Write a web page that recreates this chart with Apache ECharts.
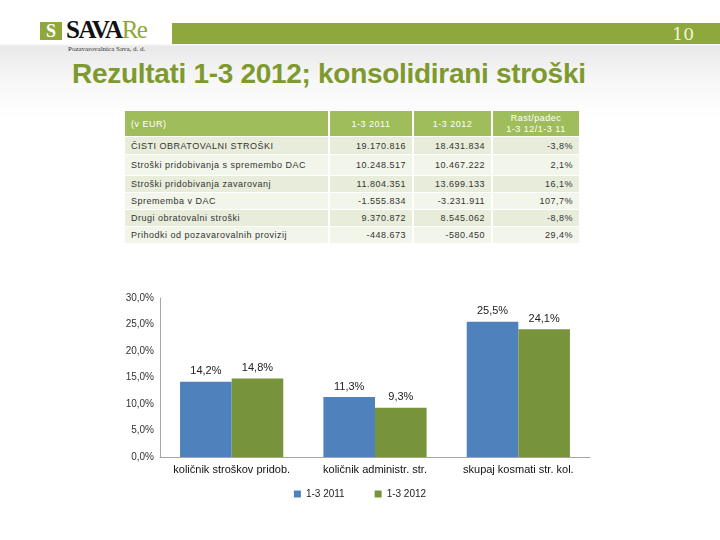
<!DOCTYPE html>
<html>
<head>
<meta charset="utf-8">
<script src="https://cdn.jsdelivr.net/npm/echarts@6/dist/echarts.min.js"></script>
<style>
  html, body { margin: 0; padding: 0; }
  body {
    width: 720px; height: 540px; position: relative; overflow: hidden;
    font-family: "Liberation Sans", Arial, sans-serif;
    background: linear-gradient(to bottom, #fff 0px, #fff 44px, #e9e9e9 46px, #f7f7f7 80px, #fff 120px);
  }
  #bar { position: absolute; left: 172px; top: 23px; width: 548px; height: 21px; background: #8fa83b; }
  #page { position: absolute; right: 26px; top: 24px; color: #f4f4dc; font: 17px "DejaVu Serif", serif; }
  #logoS { position: absolute; left: 40px; top: 22px; width: 22px; height: 18px; background: #8fa83b;
           color: #fff; font: bold 18px "Liberation Serif", serif; text-align: center; line-height: 18px; }
  #logo { position: absolute; left: 66px; top: 16px; font: bold 25px "Liberation Serif", serif; letter-spacing: -1.5px; color: #111; }
  #logo span { color: #8fa83b; font-weight: normal; }
  #logoSub { position: absolute; left: 68px; top: 45px; font: 7px "Liberation Serif", serif; color: #333; }
  #title { position: absolute; left: 72px; top: 58px; font: bold 28px "Liberation Sans", Arial, sans-serif; color: #7e9a2e; letter-spacing: -0.3px; }
  #tbl { position: absolute; left: 125px; top: 111px; border-collapse: collapse; font-size: 9px; letter-spacing: 0.5px; color: #333; }
  #tbl td, #tbl th { padding: 0 6px; border-right: 2px solid #fff; border-bottom: 1px solid #fff; white-space: nowrap; }
  #tbl th { background: #9fbd5b; color: #fff; font-weight: normal; height: 25px; }
  #tbl td.n, #tbl th.n { text-align: right; }
  #tbl th.c { text-align: center; }
  #tbl th.l, #tbl td.l { text-align: left; }
  #chart { position: absolute; left: 0; top: 0; width: 720px; height: 540px; }
</style>
</head>
<body>
<div id="bar"></div>
<div id="page">10</div>
<div id="logoS">S</div>
<div id="logo">SAVA<span>Re</span></div>
<div id="logoSub">Pozavarovalnica Sava, d. d.</div>
<div id="title">Rezultati 1-3 2012; konsolidirani stroški</div>
<table id="tbl"></table>
<div id="chart"></div>
<script>
// table data
const tableHead = ["(v EUR)", "1-3 2011", "1-3 2012", "Rast/padec<br>1-3 12/1-3 11"];
const rowLabels = [
  "ČISTI OBRATOVALNI STROŠKI",
  "Stroški pridobivanja s spremembo DAC",
  "Stroški pridobivanja zavarovanj",
  "Sprememba v DAC",
  "Drugi obratovalni stroški",
  "Prihodki od pozavarovalnih provizij",
];
const values2011 = ["19.170.816", "10.248.517", "11.804.351", "-1.555.834", "9.370.872", "-448.673"];
const values2012 = ["18.431.834", "10.467.222", "13.699.133", "-3.231.911", "8.545.062", "-580.450"];
const growth = ["-3,8%", "2,1%", "16,1%", "107,7%", "-8,8%", "29,4%"];
const rowHeights = [18, 21, 17, 17, 17, 17];

// chart data
const categories = ["količnik stroškov pridob.", "količnik administr. str.", "skupaj kosmati str. kol."];
const series2011 = [14.2, 11.3, 25.5];
const series2012 = [14.8, 9.3, 24.1];

const COLORS = { blue: "#4f81bd", green: "#77933c", axis: "#a6a6a6", text: "#222" };

function buildTable() {
  const tbl = document.getElementById("tbl");
  let html = `<tr>
    <th class="l" style="width:191px">${tableHead[0]}</th>
    <th class="c" style="width:70px">${tableHead[1]}</th>
    <th class="c" style="width:65px">${tableHead[2]}</th>
    <th class="c" style="width:74px;line-height:11px">${tableHead[3]}</th></tr>`;
  rowLabels.forEach((label, i) => {
    const bg = i % 2 === 0 ? "#e8eddb" : "#f2f5ea";
    html += `<tr style="background:${bg};height:${rowHeights[i]}px">
      <td class="l">${label}</td><td class="n">${values2011[i]}</td>
      <td class="n">${values2012[i]}</td><td class="n">${growth[i]}</td></tr>`;
  });
  tbl.innerHTML = html;
}
buildTable();

const fmt = (v) => v.toFixed(1).replace(".", ",") + "%";

const chart = echarts.init(document.getElementById("chart"), null, { renderer: "canvas" });
chart.setOption({
  animation: false,
  backgroundColor: "transparent",
  grid: { left: 160, right: 130, top: 298, bottom: 83, containLabel: false },
  legend: {
    bottom: 36, left: "center", itemWidth: 7, itemHeight: 7, itemGap: 30,
    icon: "rect",
    textStyle: { fontSize: 10, color: COLORS.text, fontFamily: "Liberation Sans" },
  },
  xAxis: {
    type: "category",
    data: categories,
    axisLine: { lineStyle: { color: COLORS.axis } },
    axisTick: { show: false },
    axisLabel: { interval: 0, fontSize: 11, color: "#111", margin: 7, fontFamily: "Liberation Sans" },
  },
  yAxis: {
    type: "value", min: 0, max: 30, interval: 5,
    axisLine: { show: true, lineStyle: { color: COLORS.axis } },
    splitLine: { show: false },
    axisLabel: { fontSize: 10, color: "#333", margin: 6, formatter: (v) => fmt(v), fontFamily: "Liberation Sans" },
  },
  series: [
    {
      name: "1-3 2011", type: "bar", data: series2011, color: COLORS.blue,
      barWidth: "36%", barGap: "0%",
      label: { show: true, position: "top", fontSize: 11, color: "#222", formatter: (p) => fmt(p.value) },
    },
    {
      name: "1-3 2012", type: "bar", data: series2012, color: COLORS.green,
      barWidth: "36%", barGap: "0%",
      label: { show: true, position: "top", fontSize: 11, color: "#222", formatter: (p) => fmt(p.value) },
    },
  ],
});
</script>
</body>
</html>
